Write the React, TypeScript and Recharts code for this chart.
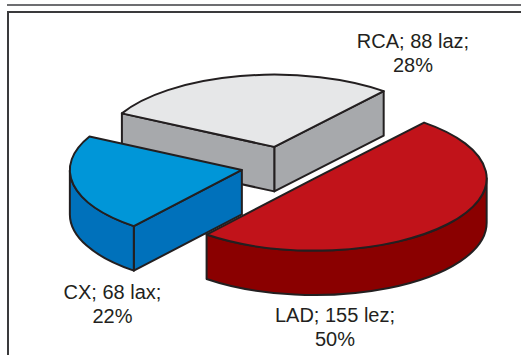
import { Pie, PieChart } from "recharts";

const vessels = ["RCA", "CX", "LAD"];
const lesionCounts = [88, 68, 155];
const lesionUnits = ["laz", "lax", "lez"];
const shares = [28, 22, 50];
const topColors = ["#e6e7e8", "#0096d8", "#c1131a"];
const wallColors = ["#a7a9ac", "#0071bb", "#8a0000"];

const chartData = vessels.map((name, i) => ({
  name,
  value: lesionCounts[i],
  unit: lesionUnits[i],
  share: shares[i],
  fill: topColors[i],
  wall: wallColors[i],
}));

// where each two-line label sits, keyed by vessel
const labelSpots: Record<string, { x: number; y: number }> = {
  RCA: { x: 413, y: 48 },
  CX: { x: 112.5, y: 299 },
  LAD: { x: 335, y: 322 },
};

const WIDTH = 521;
const HEIGHT = 355;
const SQUASH = 0.42;
const DEPTH = 44.5;
const EXPLODE = 41.5;
const EXPLODE_TILT = 0.47;
const OUTLINE = "#231f20";

const rad = (deg: number) => (deg * Math.PI) / 180;

function Slice3D(props: any) {
  const { cx, cy, outerRadius: r, startAngle: a, endAngle: b, midAngle, fill, payload } = props;
  const ry = r * SQUASH;
  const ox = cx + EXPLODE * Math.cos(rad(midAngle));
  const oy = cy - EXPLODE * EXPLODE_TILT * Math.sin(rad(midAngle));
  const px = (deg: number) => ox + r * Math.cos(rad(deg));
  const py = (deg: number) => oy - ry * Math.sin(rad(deg));

  const arcTo = (x: number, y: number, sweep: number, large: boolean) =>
    `A ${r} ${ry} 0 ${large ? 1 : 0} ${sweep} ${x} ${y}`;

  const top = `M ${ox} ${oy} L ${px(a)} ${py(a)} ${arcTo(px(b), py(b), 0, b - a > 180)} Z`;

  // radial cut faces, only when they turn toward the viewer
  const cuts: string[] = [];
  const cutFace = (deg: number) =>
    `M ${ox} ${oy} L ${px(deg)} ${py(deg)} L ${px(deg)} ${py(deg) + DEPTH} L ${ox} ${oy + DEPTH} Z`;
  if (Math.cos(rad(a)) > 0) cuts.push(cutFace(a));
  if (Math.cos(rad(b)) < 0) cuts.push(cutFace(b));

  // rim is only seen along the front half of the ellipse
  const lo = Math.max(a, 180);
  const hi = Math.min(b, 360);
  const rim =
    hi > lo
      ? `M ${px(lo)} ${py(lo)} ${arcTo(px(hi), py(hi), 0, false)} L ${px(hi)} ${py(hi) + DEPTH} ${arcTo(
          px(lo),
          py(lo) + DEPTH,
          1,
          false,
        )} Z`
      : null;

  const edge = { stroke: OUTLINE, strokeWidth: 2, strokeLinejoin: "round" as const };
  return (
    <g>
      {cuts.map((d) => (
        <path key={d} d={d} fill={payload.wall} {...edge} />
      ))}
      {rim && <path d={rim} fill={payload.wall} {...edge} />}
      <path d={top} fill={fill} {...edge} />
    </g>
  );
}

function SliceLabel(props: any) {
  const { name, value, unit, share } = props.payload;
  const spot = labelSpots[name];
  return (
    <text
      x={spot.x}
      y={spot.y}
      textAnchor="middle"
      fontFamily="'Liberation Sans', Arial, sans-serif"
      fontSize={20}
      fill={OUTLINE}
    >
      <tspan x={spot.x}>{`${name}; ${value} ${unit};`}</tspan>
      <tspan x={spot.x} dy={23.5}>{`${share}%`}</tspan>
    </text>
  );
}

export default function App() {
  return (
    <div style={{ position: "absolute", left: 0, top: 0, width: WIDTH, height: HEIGHT, overflow: "hidden", background: "#fff" }}>
      <div style={{ position: "absolute", left: 7, top: 4, right: 0, height: 2, background: "#6d6e71" }} />
      <div
        style={{
          position: "absolute",
          left: 7,
          top: 11,
          width: WIDTH,
          height: HEIGHT,
          borderLeft: "2px solid #3a3a3c",
          borderTop: "2px solid #3a3a3c",
        }}
      />
      <div style={{ position: "absolute", left: 0, top: 0 }}>
        <PieChart width={WIDTH} height={HEIGHT} margin={{ top: 0, right: 0, bottom: 0, left: 0 }}>
          <Pie
            data={chartData}
            dataKey="value"
            nameKey="name"
            cx={282.5}
            cy={166}
            innerRadius={0}
            outerRadius={172}
            startAngle={50.5}
            endAngle={410.5}
            stroke="none"
            shape={Slice3D}
            label={SliceLabel}
            labelLine={false}
            isAnimationActive={false}
          />
        </PieChart>
      </div>
    </div>
  );
}
